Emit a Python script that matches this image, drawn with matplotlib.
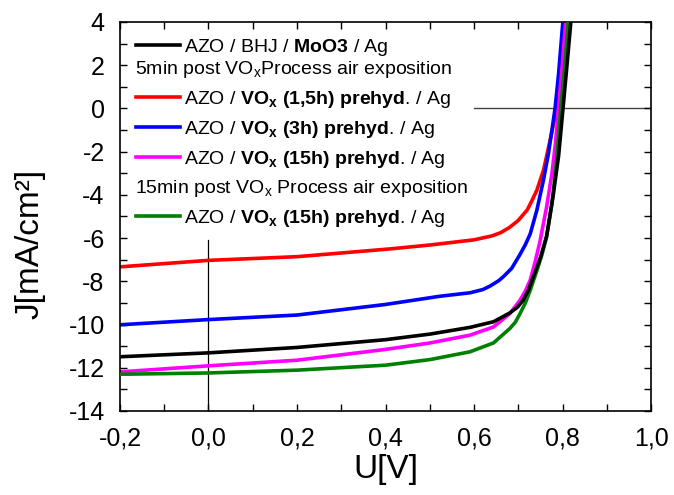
import numpy as np
import matplotlib
matplotlib.use("Agg")
import matplotlib.pyplot as plt
from matplotlib.ticker import MultipleLocator, FuncFormatter

plt.rcParams['font.family'] = ['Liberation Sans', 'DejaVu Sans']
plt.rcParams['mathtext.fontset'] = 'custom'
plt.rcParams['mathtext.rm'] = 'Liberation Sans'
plt.rcParams['mathtext.it'] = 'Liberation Sans:italic'
plt.rcParams['mathtext.bf'] = 'Liberation Sans:bold'

# J-V curves, U in V, J in mA/cm2
u_ref = [-0.2, 0.0, 0.2, 0.4, 0.501, 0.591, 0.644, 0.681, 0.698, 0.711, 0.723, 0.734,
         0.750, 0.764, 0.779, 0.791, 0.801, 0.810, 0.820]
j_ref = [-11.49, -11.31, -11.06, -10.70, -10.44, -10.13, -9.87, -9.46, -9.20, -8.87, -8.40, -7.79,
         -6.90, -5.90, -4.00, -2.20, 0.0, 2.0, 4.3]

u_1h5 = [-0.2, 0.0, 0.2, 0.41, 0.5, 0.6, 0.64, 0.66, 0.68, 0.70, 0.72, 0.73, 0.742,
         0.757, 0.772, 0.787, 0.803, 0.818]
j_1h5 = [-7.33, -7.03, -6.86, -6.50, -6.32, -6.08, -5.90, -5.75, -5.51, -5.18, -4.70, -4.30, -3.78,
         -2.85, -1.46, 0.0, 2.1, 4.3]

u_3h = [-0.2, 0.0, 0.2, 0.4, 0.523, 0.591, 0.62, 0.636, 0.655, 0.666, 0.685, 0.704, 0.716,
        0.727, 0.742, 0.757, 0.768, 0.776, 0.783, 0.791, 0.799, 0.802]
j_3h = [-10.01, -9.77, -9.56, -9.07, -8.69, -8.53, -8.38, -8.22, -7.98, -7.79, -7.40, -6.75, -6.30,
        -5.80, -4.70, -3.30, -2.10, -1.00, 0.0, 1.6, 3.6, 4.3]

u_15h = [-0.2, 0.0, 0.2, 0.4, 0.501, 0.591, 0.644, 0.681, 0.704, 0.716, 0.727, 0.738, 0.749,
         0.764, 0.776, 0.784, 0.791, 0.799, 0.807, 0.809]
j_15h = [-12.19, -11.91, -11.65, -11.15, -10.85, -10.49, -10.11, -9.49, -8.87, -8.45, -7.94, -7.10, -6.15,
         -4.55, -3.00, -1.60, 0.0, 1.9, 4.0, 4.5]

u_15h_air = [-0.2, 0.0, 0.2, 0.4, 0.501, 0.591, 0.644, 0.681, 0.693, 0.704, 0.716, 0.727, 0.742,
             0.753, 0.764, 0.776, 0.786, 0.796, 0.805, 0.814]
j_15h_air = [-12.30, -12.24, -12.11, -11.88, -11.62, -11.26, -10.85, -10.18, -9.90, -9.49, -9.00, -8.41, -7.50,
             -6.80, -5.95, -4.40, -2.50, 0.0, 2.0, 4.3]

fig = plt.figure(figsize=(6.74, 4.95), dpi=100)
ax = fig.add_axes([0.178, 0.1697, 0.788, 0.7859])

# zero reference lines
ax.plot([0.0, 0.0], [-14, -6.1], color='black', lw=0.9, zorder=1)
ax.plot([0.6, 1.0], [0.0, 0.0], color='#444444', lw=1.0, zorder=1)

lw = 2.6
ax.plot(u_1h5, j_1h5, color='#ff0000', lw=lw, zorder=2)
ax.plot(u_3h, j_3h, color='#0000ff', lw=lw, zorder=2)
ax.plot(u_15h, j_15h, color='#ff00ff', lw=lw, zorder=2)
ax.plot(u_15h_air, j_15h_air, color='#008000', lw=lw, zorder=3)
ax.plot(u_ref, j_ref, color='black', lw=lw, zorder=3)

ax.set_xlim(-0.2, 1.0)
ax.set_ylim(-14, 4)

comma = FuncFormatter(lambda v, p: ('%.1f' % v).replace('.', ','))
ax.xaxis.set_major_locator(MultipleLocator(0.2))
ax.xaxis.set_minor_locator(MultipleLocator(0.1))
ax.xaxis.set_major_formatter(comma)
ax.yaxis.set_major_locator(MultipleLocator(2))
ax.yaxis.set_minor_locator(MultipleLocator(1))
ax.yaxis.set_major_formatter(FuncFormatter(lambda v, p: '%d' % v))
ax.tick_params(which='both', direction='in', top=True, right=True,
               length=5, width=1, labelsize=18)
ax.tick_params(axis='x', pad=11)
ax.tick_params(axis='y', pad=11)
for s in ax.spines.values():
    s.set_linewidth(1.2)

ax.set_xlabel('U[V]', fontsize=24)
ax.set_ylabel('J[mA/cm²]', fontsize=24)
ax.xaxis.set_label_coords(0.5, -0.11)
ax.yaxis.set_label_coords(-0.141, 0.43)

# legend built row by row
rows = [
    ('black', r'AZO / BHJ / $\mathbf{MoO3}$ / Ag'),
    (None, r'5min post VO$_\mathregular{x}$Process air exposition'),
    ('#ff0000', r'AZO / $\mathbf{VO_x\ (1{,}5h)\ prehyd}$. / Ag'),
    ('#0000ff', r'AZO / $\mathbf{VO_x\ (3h)\ prehyd}$. / Ag'),
    ('#ff00ff', r'AZO / $\mathbf{VO_x\ (15h)\ prehyd}$. / Ag'),
    (None, r'15min post VO$_\mathregular{x}$ Process air exposition'),
    ('#008000', r'AZO / $\mathbf{VO_x\ (15h)\ prehyd}$. / Ag'),
]
row_y = [0.941, 0.885, 0.808, 0.731, 0.654, 0.578, 0.501]
for (col, label), yy in zip(rows, row_y):
    if col is None:
        ax.text(0.028, yy - 0.018, label, transform=ax.transAxes,
                fontsize=14, va='baseline', ha='left')
    else:
        ax.plot([0.0296, 0.113], [yy, yy], color=col, lw=lw,
                transform=ax.transAxes, clip_on=False)
        ax.text(0.1205, yy - 0.018, label, transform=ax.transAxes,
                fontsize=14, va='baseline', ha='left')

fig.savefig('out.png', dpi=100)
